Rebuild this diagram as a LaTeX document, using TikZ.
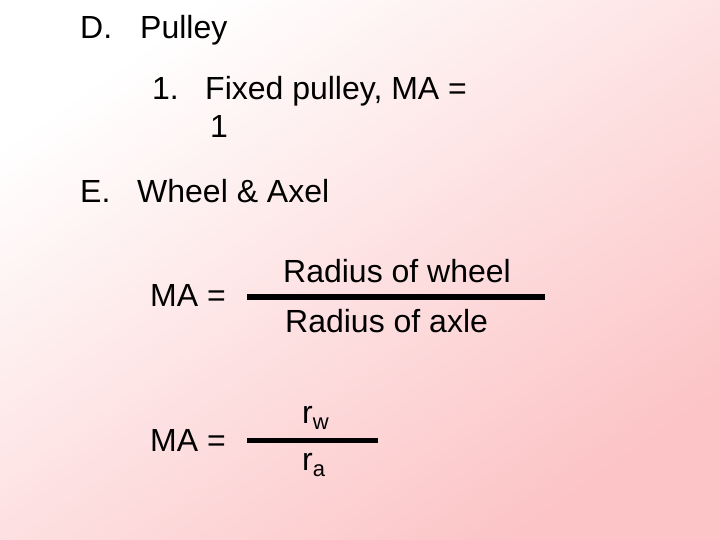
\documentclass[tikz,border=0pt]{standalone}
\usepackage{fontspec}
\setmainfont{Liberation Sans}
\definecolor{pinkbg}{RGB}{252,196,198}
\newcommand{\lowsub}[1]{\raisebox{-6pt}{\fontsize{22}{24}\selectfont #1}}
\begin{document}
\begin{tikzpicture}[x=1pt,y=-1pt,
  txt/.style={anchor=base west,inner sep=0pt,font=\fontsize{32}{36}\selectfont},
  bar/.style={line width=6pt}]
\useasboundingbox (0,0) rectangle (720,540);
\path[shading=axis,top color=white,bottom color=pinkbg,shading angle=35] (0,0) rectangle (720,540);
\node[txt] (d) at (80,39) {D.};
\node[txt] (dp) at (140,39) {Pulley};
\node[txt] (n1) at (152,100) {1.};
\node[txt] (fp) at (205,100) {Fixed pulley, MA =};
\node[txt] (one) at (210,138) {1};
\node[txt] (e) at (80,203) {E.};
\node[txt] (wa) at (137,203) {Wheel \& Axel};
\node[txt] (ma1) at (150,306) {MA =};
\coordinate (l1a) at (247,297);
\coordinate (l1b) at (545,297);
\draw[bar] (l1a) -- (l1b);
\node[txt] (rw) at (283,282) {Radius of wheel};
\node[txt] (ra) at (285,332) {Radius of axle};
\node[txt] (ma2) at (150,451) {MA =};
\coordinate (l2a) at (247,440);
\coordinate (l2b) at (378,440);
\draw[line width=5pt] (l2a) -- (l2b);
\node[txt] (sw) at (302,423) {r\lowsub{w}};
\node[txt] (sa) at (302,470) {r\lowsub{a}};
\end{tikzpicture}
\end{document}
